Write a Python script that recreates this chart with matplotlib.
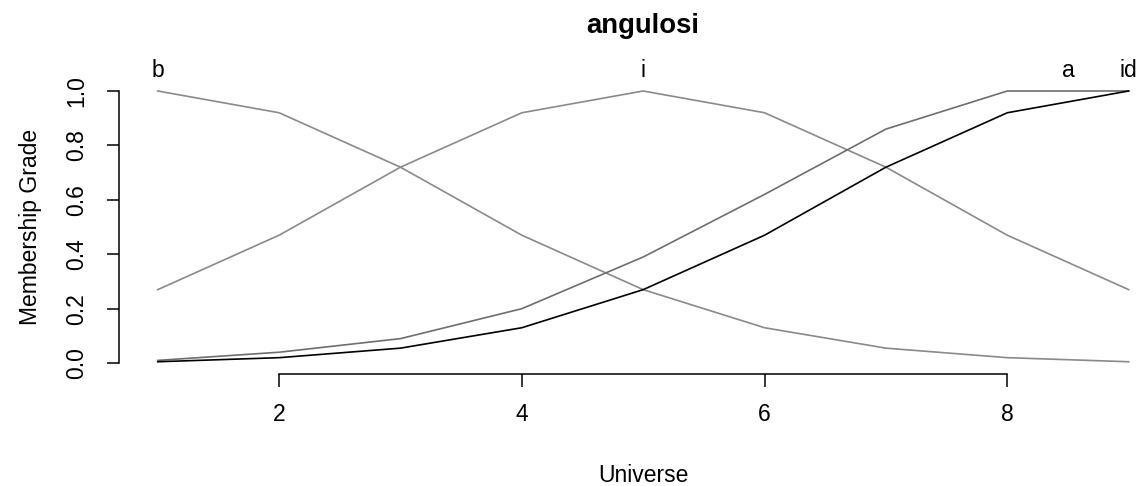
import matplotlib
matplotlib.use("Agg")
import matplotlib.pyplot as plt

# membership grades over the universe 1..9
universe = [1, 2, 3, 4, 5, 6, 7, 8, 9]
set_names = ["b", "i", "a", "id"]
grade_b = [1.00, 0.92, 0.72, 0.47, 0.27, 0.13, 0.055, 0.02, 0.005]
grade_i = [0.27, 0.47, 0.72, 0.92, 1.00, 0.92, 0.72, 0.47, 0.27]
grade_a = [0.01, 0.04, 0.09, 0.20, 0.39, 0.62, 0.86, 1.00, 1.00]
grade_id = [0.005, 0.02, 0.055, 0.13, 0.27, 0.47, 0.72, 0.92, 1.00]
colors = ["#8a8a8a", "#8a8a8a", "#6e6e6e", "#000000"]

plt.rcParams['font.family'] = ['Liberation Sans', 'DejaVu Sans']
fs = 16.5

W, H = 1144, 486
fig = plt.figure(figsize=(W / 100, H / 100), dpi=100)
# plot region in pixels (runs past the right edge, like the original device)
x0, x1, ytop, ybot = 118.9, 1167.5, 80.1, 374.0
ax = fig.add_axes([x0 / W, 1 - ybot / H, (x1 - x0) / W, (ybot - ytop) / H])

grades = [grade_b, grade_i, grade_a, grade_id]
for name, g, c in zip(set_names, grades, colors):
    ax.plot(universe, g, color=c, lw=1.2, solid_joinstyle="miter")
    top = max(g)
    xs = [x for x, v in zip(universe, g) if v == top]
    ax.text(sum(xs) / len(xs), 1.077, name, ha="center", va="center",
            fontsize=fs, clip_on=False)

ax.set_xlim(0.68, 9.32)
ax.set_ylim(-0.04, 1.04)

for s in ["top", "right"]:
    ax.spines[s].set_visible(False)
ax.spines["left"].set_bounds(0, 1)
ax.spines["bottom"].set_bounds(2, 8)
ax.spines["left"].set_linewidth(1.1)
ax.spines["bottom"].set_linewidth(1.1)

ax.set_xticks([2, 4, 6, 8])
ax.set_yticks([0, 0.2, 0.4, 0.6, 0.8, 1.0])
ax.set_yticklabels(["0.0", "0.2", "0.4", "0.6", "0.8", "1.0"],
                   rotation=90, va="center")
ax.tick_params(axis="both", length=9, width=1.1, labelsize=fs)
ax.tick_params(axis="x", pad=12)
ax.tick_params(axis="y", pad=13)

ax.set_xlabel("Universe", fontsize=fs)
ax.set_ylabel("Membership Grade", fontsize=fs)
ax.xaxis.set_label_coords(((643 - x0) / (x1 - x0)), -(475 - ybot) / (ybot - ytop))
ax.xaxis.label.set_va("center")
ax.yaxis.set_label_coords(-(x0 - 30) / (x1 - x0), 0.5)
ax.yaxis.label.set_va("center")

ax.set_title("angulosi", fontsize=fs * 1.2, fontweight="bold", pad=0,
             y=1 + (ytop - 26) / (ybot - ytop), va="center")

fig.savefig("out.png", dpi=100)
